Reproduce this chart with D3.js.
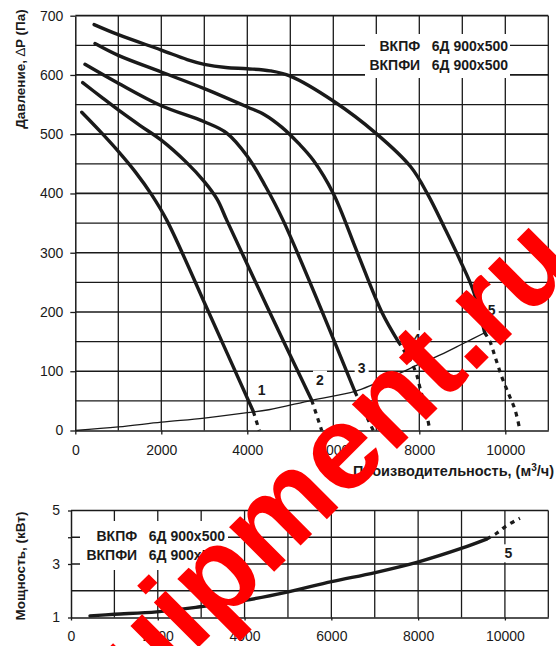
<!DOCTYPE html>
<html><head><meta charset="utf-8">
<script src="https://cdn.jsdelivr.net/npm/d3@7"></script>
<style>
body{margin:0;background:#fff}
svg{display:block}
text{font-family:"Liberation Sans",Arial,sans-serif;fill:#1a1a1a}
</style>
</head><body>
<svg id="c" width="556" height="646"></svg>
<script>
// ---------- data ----------
const pressureTicks = [0,100,200,300,400,500,600,700];
const flowTicks = [0,2000,4000,6000,8000,10000];
const powerTicks = [1,3,5];
const powerTickMarks = [1,3,4,5];
const legendLines = ["ВКПФ   6Д 900x500", "ВКПФИ   6Д 900x500"];
const curveNames = ["1","2","3","4","5"];

// fan pressure curves (flow m3/h, pressure Pa)
const curve1 = [[150,537],[600,503],[1000,471],[1400,436],[1774,398],[2126,355],[3100,200],[4140,32]];
const curve1Dot = [[4140,32],[4279,0]];
const curve2 = [[172,587],[600,563],[1000,541],[1500,515],[2000,490],[2591,452],[3000,420],[3300,390],[3521,355],[4500,203],[5498,51]];
const curve2Dot = [[5498,51],[5730,0]];
const curve3 = [[225,618],[1000,586],[2000,548],[3000,521],[3521,502],[4000,463],[4400,415],[4830,355],[6505,65]];
const curve3Dot = [[6505,65],[6930,0]];
const curve4 = [[458,653],[1000,633],[2000,605],[3000,577],[4000,546],[4400,533],[4800,512],[5200,484],[5535,456],[6000,400],[6560,300],[7126,200],[7512,150]];
const curve4Dot = [[7512,150],[7900,102],[8016,72],[8132,40],[8248,0]];
const curve5 = [[437,685],[1000,668],[2000,642],[2600,626],[3000,618],[3500,612.5],[4000,610.5],[4528,607],[5000,598],[6000,556],[7000,501],[7800,445],[8200,398],[8600,340],[8950,287],[9250,237],[9520,165]];
const curve5Dot = [[9520,165],[9644,150],[9760,125],[9916,91],[10070,63],[10226,35],[10342,0]];
const systemCurve = [[0,0],[1000,6],[2000,14],[3000,21],[4000,30],[4500,35],[5500,51],[6500,66],[7000,80],[7500,95],[8000,112],[8500,128],[9000,146],[9520,165]];
const labelPos = [[4335,68],[5691,86],[6660,105],[7940,154],[9684,203]];

// power curve (flow m3/h, kW)
const powerCurve = [[438,1.06],[1000,1.12],[1975,1.21],[2972,1.40],[4009,1.64],[5007,1.96],[6006,2.34],[7011,2.68],[8011,3.08],[9009,3.59],[9578,3.93]];
const powerDot = [[9578,3.93],[9809,4.15],[10039,4.43],[10346,4.71]];
const powerLabel = ["5", 10078, 3.40];

const watermark = "equipment.ru";

// ---------- drawing ----------
const svg = d3.select("#c");
const ink = "#1a1a1a";
const fmt = d3.format("d");

const xT = d3.scaleLinear().domain([0,11000]).range([75.3,548.3]);
const yT = d3.scaleLinear().domain([0,700]).range([430.5,15.7]);
const xB = d3.scaleLinear().domain([0,11000]).range([71,548.3]);
const yB = d3.scaleLinear().domain([1,5]).range([617.5,510.5]);

// ----- top grid -----
const gT = svg.append("g");
gT.selectAll("line.v").data(d3.range(1000,11001,1000)).enter().append("line")
  .attr("x1",d=>xT(d)).attr("x2",d=>xT(d)).attr("y1",yT(0)).attr("y2",yT(700))
  .attr("stroke",ink).attr("stroke-width",1.3);
gT.selectAll("line.h").data(d3.range(50,701,50)).enter().append("line")
  .attr("x1",xT(0)).attr("x2",xT(11000)).attr("y1",d=>yT(d)).attr("y2",d=>yT(d))
  .attr("stroke",ink).attr("stroke-width",d=>d%100===0?1.7:1.2);

const axTL = d3.axisLeft(yT).tickValues(pressureTicks).tickSize(5).tickSizeOuter(0).tickPadding(7).tickFormat(fmt);
const axTB = d3.axisBottom(xT).tickValues(flowTicks).tickSize(4).tickSizeOuter(0).tickPadding(11).tickFormat(fmt);
function styleAxis(g){
  g.select(".domain").attr("stroke",ink).attr("stroke-width",1.5);
  g.selectAll(".tick line").attr("stroke",ink).attr("stroke-width",1.3);
  g.selectAll(".tick text").style("font-size","14px").attr("fill","#1a1a1a")
   .style("font-family",'"Liberation Sans",Arial,sans-serif');
}
svg.append("g").attr("transform",`translate(${xT(0)},0)`).call(axTL).call(styleAxis);
svg.append("g").attr("transform",`translate(0,${yT(0)})`).call(axTB).call(styleAxis);

// legend top (white box breaks the grid)
svg.append("rect").attr("x",365).attr("y",34).attr("width",145).attr("height",44).attr("fill","#fff");
svg.append("g").selectAll("text").data(legendLines).enter().append("text")
  .attr("x",508).attr("y",(d,i)=>51+i*19).attr("text-anchor","end")
  .attr("xml:space","preserve").style("white-space","pre")
  .style("font-size","14px").style("font-weight","bold").text(d=>d);

// curves
const lineT = d3.line().x(d=>xT(d[0])).y(d=>yT(d[1])).curve(d3.curveCatmullRom.alpha(0.5));
svg.append("path").attr("d",lineT(systemCurve)).attr("fill","none").attr("stroke",ink).attr("stroke-width",1.3);
[curve1,curve2,curve3,curve4,curve5].forEach(c=>{
  svg.append("path").attr("d",lineT(c)).attr("fill","none").attr("stroke",ink)
    .attr("stroke-width",3.4).attr("stroke-linecap","round").attr("stroke-linejoin","round");
});
[curve1Dot,curve2Dot,curve3Dot,curve4Dot,curve5Dot].forEach(c=>{
  svg.append("path").attr("d",lineT(c)).attr("fill","none").attr("stroke",ink)
    .attr("stroke-width",3.2).attr("stroke-dasharray","4.5,5");
});

// curve labels
curveNames.forEach((n,i)=>{
  const cx = xT(labelPos[i][0]), cy = yT(labelPos[i][1]);
  svg.append("rect").attr("x",cx-7).attr("y",cy-9).attr("width",14).attr("height",18).attr("fill","#fff");
  svg.append("text").attr("x",cx).attr("y",cy+5).attr("text-anchor","middle")
    .style("font-size","14px").style("font-weight","bold").text(n);
});

// axis titles top
const yt = svg.append("text").attr("transform","translate(24.5,69) rotate(-90)")
  .attr("text-anchor","middle").style("font-size","13.5px").style("font-weight","bold");
yt.append("tspan").text("Давление, ");
yt.append("tspan").style("font-weight","normal").text("∆");
yt.append("tspan").text("P (Па)");

const xt = svg.append("text").attr("x",554).attr("y",476).attr("text-anchor","end")
  .style("font-size","14.5px").style("font-weight","bold");
xt.append("tspan").text("Производительность, (м");
xt.append("tspan").attr("dy",-5).style("font-size","10px").text("3");
xt.append("tspan").attr("dy",5).text("/ч)");

// ----- bottom chart -----
const gB = svg.append("g");
gB.selectAll("line.v").data(d3.range(1000,11001,1000)).enter().append("line")
  .attr("x1",d=>xB(d)).attr("x2",d=>xB(d)).attr("y1",yB(1)).attr("y2",yB(5))
  .attr("stroke",ink).attr("stroke-width",1.3);
gB.selectAll("line.h").data([2,3,4,5]).enter().append("line")
  .attr("x1",xB(0)).attr("x2",xB(11000)).attr("y1",d=>yB(d)).attr("y2",d=>yB(d))
  .attr("stroke",ink).attr("stroke-width",1.4);

const axBL = d3.axisLeft(yB).tickValues(powerTickMarks).tickSize(3).tickSizeOuter(0).tickPadding(8)
  .tickFormat(d=>powerTicks.includes(d)?fmt(d):"");
const axBB = d3.axisBottom(xB).tickValues(flowTicks).tickSize(3).tickSizeOuter(0).tickPadding(11).tickFormat(fmt);
svg.append("g").attr("transform",`translate(${xB(0)},0)`).call(axBL).call(styleAxis);
svg.append("g").attr("transform",`translate(0,${yB(1)})`).call(axBB).call(styleAxis);

svg.append("rect").attr("x",80).attr("y",521).attr("width",148).attr("height",49).attr("fill","#fff");
svg.append("g").selectAll("text").data(legendLines).enter().append("text")
  .attr("x",225).attr("y",(d,i)=>541+i*19).attr("text-anchor","end")
  .attr("xml:space","preserve").style("white-space","pre")
  .style("font-size","14px").style("font-weight","bold").text(d=>d);

const lineB = d3.line().x(d=>xB(d[0])).y(d=>yB(d[1])).curve(d3.curveCatmullRom.alpha(0.5));
svg.append("path").attr("d",lineB(powerCurve)).attr("fill","none").attr("stroke",ink)
  .attr("stroke-width",3.4).attr("stroke-linecap","round");
svg.append("path").attr("d",lineB(powerDot)).attr("fill","none").attr("stroke",ink)
  .attr("stroke-width",3.2).attr("stroke-dasharray","4.5,5");
{
  const cx = xB(powerLabel[1]), cy = yB(powerLabel[2]);
  svg.append("rect").attr("x",cx-7).attr("y",cy-9).attr("width",14).attr("height",18).attr("fill","#fff");
  svg.append("text").attr("x",cx).attr("y",cy+5).attr("text-anchor","middle")
    .style("font-size","14px").style("font-weight","bold").text(powerLabel[0]);
}

svg.append("text").attr("transform","translate(24.5,566) rotate(-90)")
  .attr("text-anchor","middle").style("font-size","13.5px").style("font-weight","bold")
  .text("Мощность, (кВт)");

// watermark
svg.append("text").attr("transform","translate(42,804) rotate(-45)")
  .style("font-size","120px").style("font-weight","bold").style("fill","#ff0000")
  .text(watermark);
</script>
</body></html>
